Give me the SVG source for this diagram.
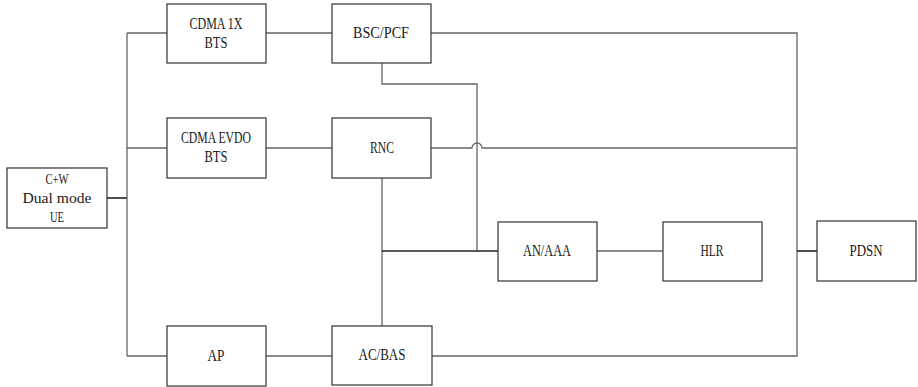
<svg xmlns="http://www.w3.org/2000/svg" width="918" height="387" viewBox="0 0 918 387">
<style>
.box{fill:#fff;stroke:#333;stroke-width:1.2}
.t{font-family:"Liberation Serif","Times New Roman",serif;font-size:17px;fill:#1a1a1a;text-anchor:middle}
.s{font-size:14px}
.c{fill:none;stroke:#666;stroke-width:1.3}
.d{fill:none;stroke:#222;stroke-width:1.6}
</style>
<rect width="918" height="387" fill="#fff"/>
<g id="connectors">
<path class="d" d="M107 198H127"/>
<path class="c" d="M127 33V356M127 33H167M127 148H167M127 356H167"/>
<path class="c" d="M266 33H332M266 148H332M266 356H332"/>
<path class="c" d="M431 33H797V356H432"/>
<path class="c" d="M431 148H472A5 5 0 0 1 482 148H797"/>
<path class="d" d="M797 251H817"/>
<path class="c" d="M382 63V84H477V251"/>
<path class="c" d="M382 178V326"/>
<path class="d" d="M382 251H498"/>
<path class="c" d="M597 251H663"/>
</g>
<g id="ue"><rect class="box" x="7" y="168" width="100" height="60"/>
<text class="t s" x="57" y="184" textLength="23" lengthAdjust="spacingAndGlyphs">C+W</text>
<text class="t s" x="57" y="203" textLength="69" lengthAdjust="spacingAndGlyphs">Dual mode</text>
<text class="t s" x="57" y="222" textLength="14" lengthAdjust="spacingAndGlyphs">UE</text></g>
<g id="cdma1x"><rect class="box" x="167" y="4" width="99" height="59"/>
<text class="t" x="216" y="29" textLength="53" lengthAdjust="spacingAndGlyphs">CDMA 1X</text>
<text class="t" x="216" y="48" textLength="23" lengthAdjust="spacingAndGlyphs">BTS</text></g>
<g id="evdo"><rect class="box" x="167" y="118" width="99" height="60"/>
<text class="t" x="216" y="143" textLength="70" lengthAdjust="spacingAndGlyphs">CDMA EVDO</text>
<text class="t" x="216" y="162" textLength="23" lengthAdjust="spacingAndGlyphs">BTS</text></g>
<g id="ap"><rect class="box" x="167" y="326" width="99" height="60"/>
<text class="t" x="216" y="361" textLength="17" lengthAdjust="spacingAndGlyphs">AP</text></g>
<g id="bsc"><rect class="box" x="332" y="4" width="99" height="59"/>
<text class="t" x="381" y="38" textLength="56" lengthAdjust="spacingAndGlyphs">BSC/PCF</text></g>
<g id="rnc"><rect class="box" x="332" y="118" width="99" height="60"/>
<text class="t" x="382" y="153" textLength="24" lengthAdjust="spacingAndGlyphs">RNC</text></g>
<g id="acbas"><rect class="box" x="332" y="326" width="100" height="59"/>
<text class="t" x="382" y="360" textLength="47" lengthAdjust="spacingAndGlyphs">AC/BAS</text></g>
<g id="anaaa"><rect class="box" x="498" y="222" width="99" height="59"/>
<text class="t" x="547" y="256" textLength="48" lengthAdjust="spacingAndGlyphs">AN/AAA</text></g>
<g id="hlr"><rect class="box" x="663" y="222" width="99" height="59"/>
<text class="t" x="712" y="256" textLength="23" lengthAdjust="spacingAndGlyphs">HLR</text></g>
<g id="pdsn"><rect class="box" x="817" y="221" width="99" height="60"/>
<text class="t" x="866" y="256" textLength="33" lengthAdjust="spacingAndGlyphs">PDSN</text></g>
</svg>
